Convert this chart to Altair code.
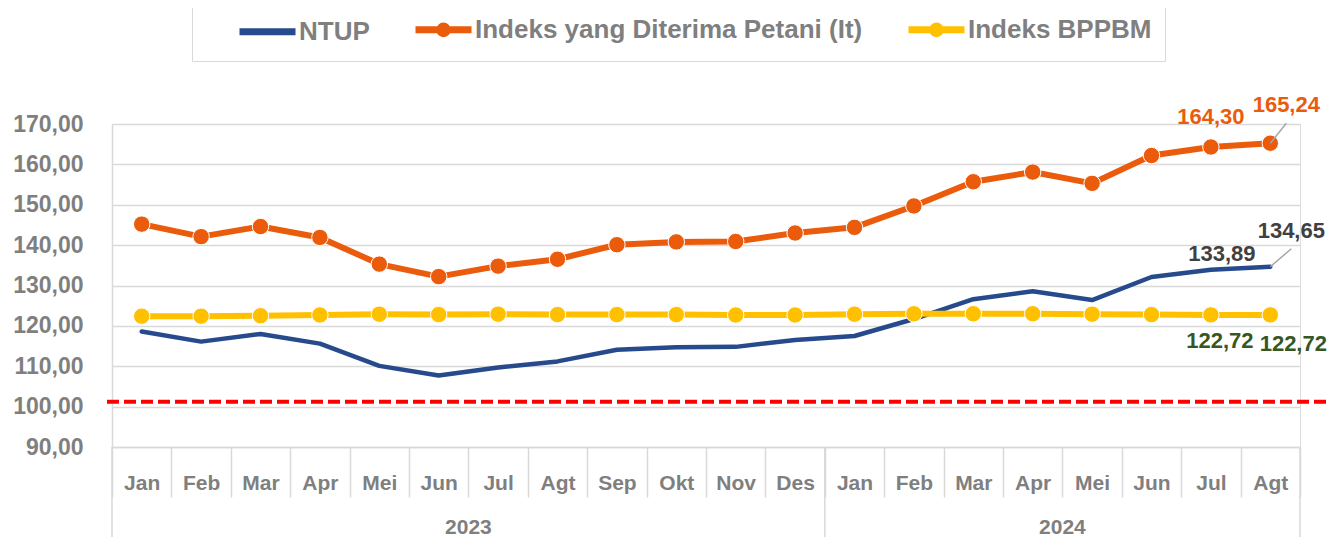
import json
import altair as alt
import pandas as pd

# ---------------- data ----------------
months = ["Jan", "Feb", "Mar", "Apr", "Mei", "Jun", "Jul", "Agt", "Sep", "Okt", "Nov", "Des",
          "Jan", "Feb", "Mar", "Apr", "Mei", "Jun", "Jul", "Agt"]
years = ["2023"] * 12 + ["2024"] * 8
series_names = ["NTUP", "Indeks yang Diterima Petani (It)", "Indeks BPPBM"]

ntup = [118.6, 116.1, 118.0, 115.6, 110.1, 107.7, 109.7, 111.2, 114.1, 114.7,
        114.8, 116.5, 117.5, 121.7, 126.6, 128.6, 126.4, 132.1, 133.89, 134.65]
it = [145.2, 142.1, 144.6, 141.9, 135.3, 132.2, 134.8, 136.5, 140.1, 140.8,
      140.9, 143.0, 144.4, 149.7, 155.7, 158.1, 155.3, 162.2, 164.30, 165.24]
ib = [122.4, 122.4, 122.5, 122.7, 122.9, 122.8, 122.9, 122.8, 122.8, 122.8,
      122.7, 122.7, 122.9, 123.0, 123.0, 123.0, 122.9, 122.8, 122.72, 122.72]
reference_level = [101.2]

# ---------------- styles ----------------
FONT = "Liberation Sans, Arial, sans-serif"
GRID = "#D9D9D9"
TXT = "#7F7F7F"
BLUE, ORANGE, YELLOW = "#264A8C", "#EA5B0C", "#FFC000"
DARK, GREEN = "#404040", "#375623"
W, H = 1188, 323

# ---------------- tables ----------------
rows = []
for name, vals in zip(series_names, [ntup, it, ib]):
    for i, (m, y, v) in enumerate(zip(months, years, vals)):
        rows.append({"idx": i, "month": m, "year": y, "series": name, "value": v})
df = pd.DataFrame(rows)

mdf = pd.DataFrame({"idx": range(len(months)), "month": months, "year": years})
year_mid = mdf.groupby("year", as_index=False)["idx"].mean()
edges = list(mdf.groupby("year")["idx"].min() - 0.5) + [mdf["idx"].max() + 0.5]
edge_df = pd.DataFrame({"edge": edges})
ref_df = pd.DataFrame({"level": reference_level})

# ---------------- scales / axes ----------------
x_scale = alt.Scale(domain=[-0.5, len(months) - 0.5], nice=False, zero=False)
y_scale = alt.Scale(domain=[90, 170], nice=False, zero=False)

tick_values = [i - 0.5 for i in range(len(months) + 1)]
label_expr = f"{json.dumps(months)}[datum.value + 0.5] || ''"

x_axis = alt.Axis(values=tick_values, labelExpr=label_expr, labelOffset=W / len(months) / 2,
                  tickSize=50, tickColor=GRID, tickWidth=1.5, grid=False,
                  domainColor=GRID, domainWidth=1.5, labelFont=FONT, labelFontSize=21,
                  labelFontWeight="bold", labelColor=TXT, labelPadding=-25,
                  labelFlush=False, labelOverlap=False, title=None)
y_axis = alt.Axis(values=list(range(90, 171, 10)),
                  labelExpr="replace(format(datum.value, '.2f'), '.', ',')",
                  grid=True, gridColor=GRID, gridWidth=1.5, ticks=False, tickSize=0,
                  domainColor=GRID, domainWidth=1.5, labelPadding=29, labelFont=FONT,
                  labelFontSize=23, labelFontWeight="bold", labelColor=TXT, title=None)

line_only = "M-2.8,0H2.8"
line_dot = line_only + " M0.38,0A0.38,0.38 0 1 1 -0.38,0A0.38,0.38 0 1 1 0.38,0Z"
shape_expr = f"datum.value === {json.dumps(series_names[0])} ? '{line_only}' : '{line_dot}'"

legend = alt.Legend(title=" ", titleOrient="left", titleFontSize=1, titleColor="white",
                    titlePadding=49, orient="none", legendX=80, legendY=-121,
                    direction="horizontal", symbolSize=400, labelOffset=18,
                    symbolType={"expr": shape_expr}, symbolStrokeWidth=7,
                    columnPadding=31, padding=13, strokeColor=GRID, labelFont=FONT,
                    labelFontSize=26, labelFontWeight="bold", labelColor=TXT,
                    labelLimit=800)

color = alt.Color("series:N", scale=alt.Scale(domain=series_names,
                                               range=[BLUE, ORANGE, YELLOW]),
                  legend=legend)
X = alt.X("idx:Q", scale=x_scale, axis=x_axis)
Y = alt.Y("value:Q", scale=y_scale, axis=y_axis)

base = alt.Chart(df)

layers = []
# reference dashed line
layers.append(alt.Chart(ref_df).mark_rule(color="#FF0000", strokeWidth=4, strokeDash=[12, 5])
              .encode(y=alt.Y("level:Q", scale=y_scale, axis=y_axis),
                      x=alt.value(-5), x2=alt.value(1224)))
# year separators
layers.append(alt.Chart(edge_df).mark_rule(color=GRID, strokeWidth=1.5)
              .encode(x=alt.X("edge:Q", scale=x_scale, axis=x_axis),
                      y=alt.value(H), y2=alt.value(H + 98)))
# year labels
layers.append(alt.Chart(year_mid).mark_text(font=FONT, fontSize=21, fontWeight="bold",
                                            color=TXT, baseline="middle")
              .encode(x=alt.X("idx:Q", scale=x_scale, axis=x_axis),
                      y=alt.value(404), text="year:N"))

draw = [(series_names[0], 4.5, False), (series_names[2], 6, True), (series_names[1], 6, True)]
for name, sw, dots in draw:
    sub = base.transform_filter(alt.datum.series == name)
    layers.append(sub.mark_line(strokeWidth=sw, strokeJoin="round", strokeCap="round")
                  .encode(x=X, y=Y, color=color))
    if dots:
        layers.append(sub.mark_circle(size=270, opacity=1, stroke="white", strokeWidth=1)
                      .encode(x=X, y=Y, color=color))

last = len(months) - 1
# leader lines
for name, dx, dy in [(series_names[1], 16, -20), (series_names[0], 21, -18)]:
    layers.append(base.transform_filter((alt.datum.series == name) & (alt.datum.idx == last))
                  .mark_rule(color="#A6A6A6", strokeWidth=1.5, x2Offset=dx, y2Offset=dy)
                  .encode(x=X, y=Y, x2="idx:Q", y2="value:Q"))

label_specs = [
    (series_names[1], last - 1, 0, -30, ORANGE),
    (series_names[1], last, 16, -38, ORANGE),
    (series_names[0], last - 1, 11, -16, DARK),
    (series_names[0], last, 21, -36, DARK),
    (series_names[2], last - 1, 9, 26, GREEN),
    (series_names[2], last, 23, 29, GREEN),
]
for name, i, dx, dy, col in label_specs:
    layers.append(base.transform_filter((alt.datum.series == name) & (alt.datum.idx == i))
                  .transform_calculate(lbl="replace(format(datum.value, '.2f'), '.', ',')")
                  .mark_text(font=FONT, fontSize=22, fontWeight="bold", color=col,
                             dx=dx, dy=dy, baseline="middle", align="center")
                  .encode(x=X, y=Y, text="lbl:N"))

chart = (alt.layer(*layers)
         .properties(width=W, height=H,
                     autosize=alt.AutoSizeParams(type="none"),
                     padding={"left": 104, "top": 116, "right": 28, "bottom": 90})
         .configure_view(stroke=None)
         .configure(background="white"))

chart.save("out.html", embed_options={"renderer": "svg", "actions": False})
